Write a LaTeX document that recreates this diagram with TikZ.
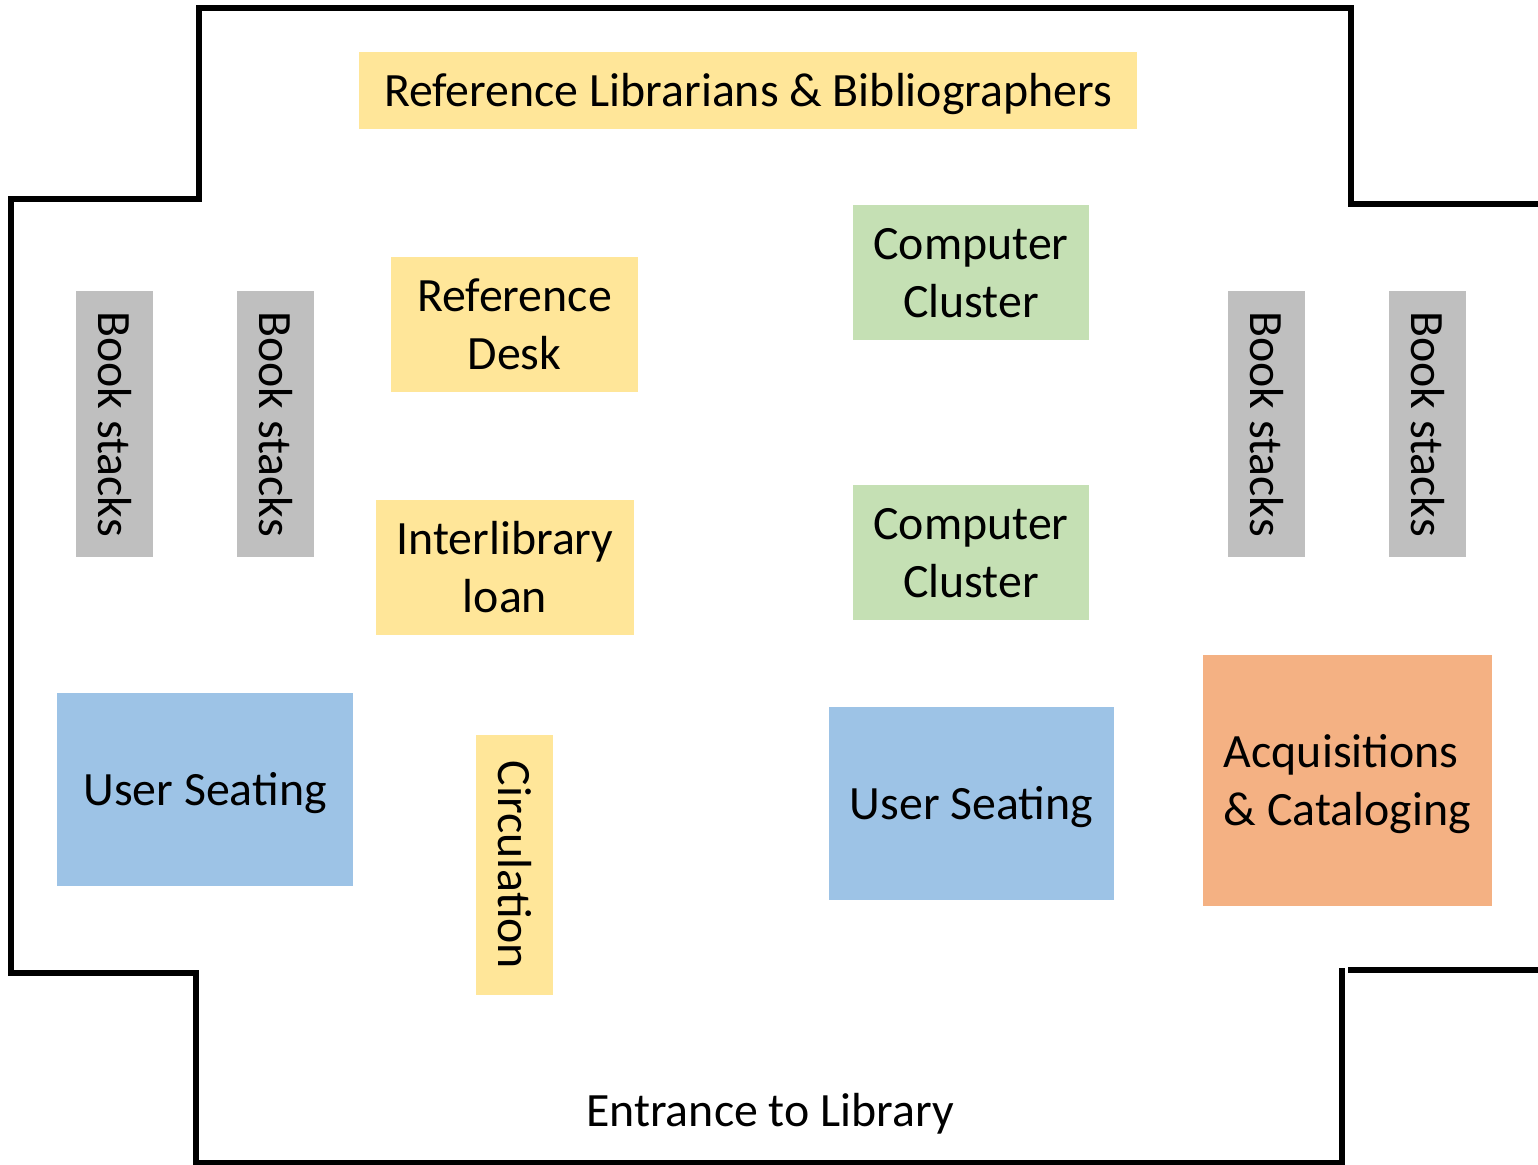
\documentclass[tikz,border=0pt]{standalone}
\usepackage{fontspec}
\setmainfont{Carlito}
\definecolor{deskyellow}{HTML}{FFE699}
\definecolor{pcgreen}{HTML}{C5E0B4}
\definecolor{stackgray}{HTML}{BFBFBF}
\definecolor{seatblue}{HTML}{9DC3E6}
\definecolor{officeorange}{HTML}{F4B183}

\begin{document}
\begin{tikzpicture}[x=0.01cm, y=-0.01cm,
  area/.style={inner sep=0pt, align=center, font=\fontsize{13.6}{16.6}\selectfont,
    text height=12.9pt, text depth=3.7pt},
  twoline/.style={text height=29.5pt},
  desk/.style={area, fill=deskyellow},
  pc/.style={area, twoline, fill=pcgreen, minimum width=2.36cm, minimum height=1.35cm},
  stacks/.style={area, fill=stackgray, rotate=-90, minimum width=2.66cm, minimum height=0.77cm},
  seating/.style={area, fill=seatblue, minimum height=1.93cm},
  office/.style={area, fill=officeorange},
  wall/.style={line width=1.7pt, line cap=rect}]
\useasboundingbox (0,0) rectangle (1538,1165);
% outer walls
\coordinate (w1) at (199,8);
\coordinate (w2) at (1351,8);
\coordinate (w3) at (199,199);
\coordinate (w4) at (11,199);
\coordinate (w5) at (11,973);
\coordinate (w6) at (196,973);
\coordinate (w7) at (196,1163);
\coordinate (w8) at (1342,1163);
\coordinate (w9) at (1342,971);
\coordinate (w10) at (1351,970);
\coordinate (w11) at (1538,970);
\coordinate (w12) at (1351,204);
\coordinate (w13) at (1538,204);
\draw[wall] (w3) -- (w1) -- (w2) -- (w12) -- (w13);
\draw[wall] (w3) -- (w4) -- (w5) -- (w6) -- (w7) -- (w8) -- (w9);
\draw[wall] (w10) -- (w11);
% desks
\node[desk, minimum width=7.78cm, minimum height=0.77cm] (refstaff) at (748,90.5) {Reference Librarians \& Bibliographers};
\node[desk, twoline, minimum width=2.47cm, minimum height=1.35cm] (refdesk) at (514.5,324.5) {Reference\\Desk};
\node[desk, twoline, minimum width=2.58cm, minimum height=1.35cm] (ill) at (505,567.5) {Interlibrary\\loan};
\node[desk, rotate=-90, minimum width=2.60cm, minimum height=0.77cm] (circ) at (514.5,865) {Circulation};
% computers
\node[pc] (cc1) at (971,272.5) {Computer\\Cluster};
\node[pc] (cc2) at (971,552.5) {Computer\\Cluster};
% book stacks
\node[stacks] (st1) at (114.5,424) {Book stacks};
\node[stacks] (st2) at (275.5,424) {Book stacks};
\node[stacks] (st3) at (1266.5,424) {Book stacks};
\node[stacks] (st4) at (1427.5,424) {Book stacks};
% seating
\node[seating, minimum width=2.96cm] (seat1) at (205,789.5) {User Seating};
\node[seating, minimum width=2.85cm] (seat2) at (971.5,803.5) {User Seating};
\node[office, twoline, minimum width=2.89cm, minimum height=2.51cm, align=left] (acq) at (1347.5,780.5) {Acquisitions\\\& Cataloging};
\node[area] (entrance) at (770,1110) {Entrance to Library};
\end{tikzpicture}
\end{document}
